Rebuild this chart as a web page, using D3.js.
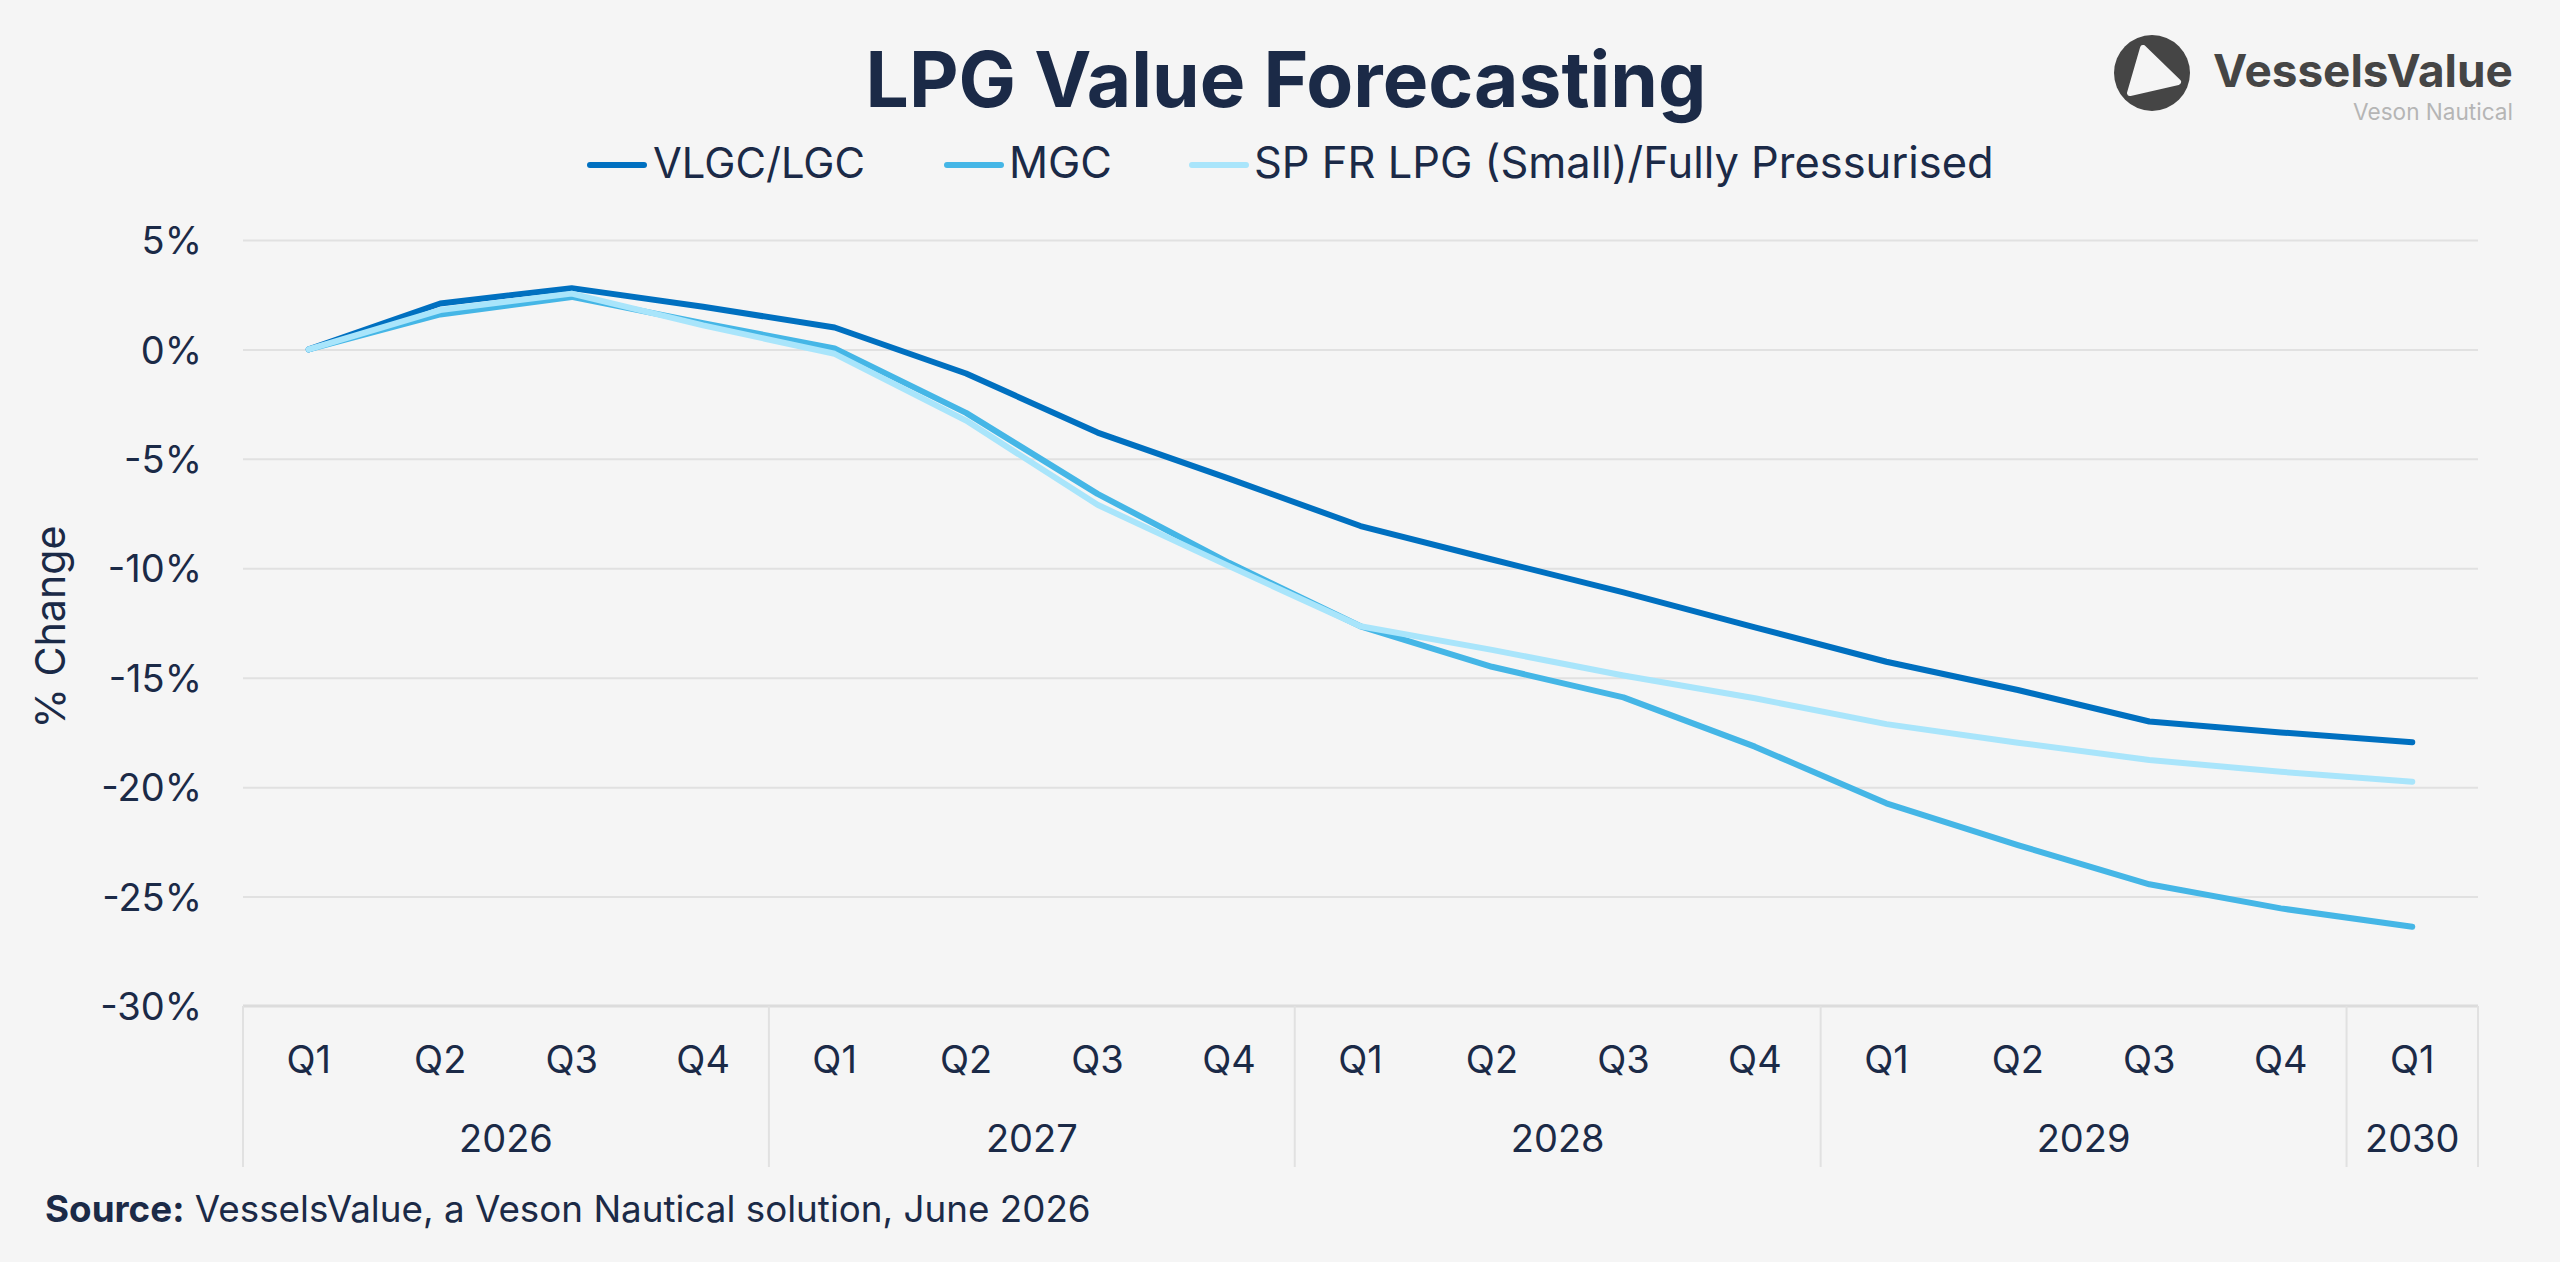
<!DOCTYPE html>
<html>
<head>
<meta charset="utf-8">
<script src="https://cdn.jsdelivr.net/npm/d3@7"></script>
<style>
  html, body { margin: 0; padding: 0; background: #f5f5f5; }
  svg { display: block; }
  text { font-family: Inter, "Open Sans", sans-serif; fill: #1b2a47; }
</style>
</head>
<body>
<svg id="chart" width="2560" height="1262"></svg>
<script>
// ---------- data ----------
const quarters = ["Q1","Q2","Q3","Q4","Q1","Q2","Q3","Q4","Q1","Q2","Q3","Q4","Q1","Q2","Q3","Q4","Q1"];
const yearLabels = ["2026","2027","2028","2029","2030"];
const yearSpans = [4, 4, 4, 4, 1];
const seriesNames = ["VLGC/LGC", "MGC", "SP FR LPG (Small)/Fully Pressurised"];
const vlgc = [0, 2.1, 2.8, 1.95, 1.0, -1.1, -3.8, -5.9, -8.07, -9.6, -11.1, -12.7, -14.27, -15.56, -17.0, -17.5, -17.95];
const mgc  = [0, 1.6, 2.4, 1.2, 0.05, -2.9, -6.6, -9.75, -12.65, -14.5, -15.9, -18.15, -20.74, -22.65, -24.44, -25.54, -26.38];
const sp   = [0, 1.8, 2.55, 1.1, -0.2, -3.25, -7.1, -9.9, -12.65, -13.73, -14.9, -15.94, -17.12, -17.97, -18.76, -19.3, -19.75];
const yTicks = [5, 0, -5, -10, -15, -20, -25, -30];
const titleText = "LPG Value Forecasting";
const yAxisTitle = "% Change";
const sourceBold = "Source:";
const sourceText = " VesselsValue, a Veson Nautical solution, June 2026";

// ---------- styles ----------
const colors = ["#0070c0", "#45b6e6", "#a9e5fb"];
const navy = "#1b2a47";

const svg = d3.select("#chart");
const W = 2560, H = 1262;
svg.append("rect").attr("width", W).attr("height", H).attr("fill", "#f5f5f5");

const pL = 243, pR = 2478, pT = 240, pB = 1006;

const x = d3.scaleBand().domain(d3.range(quarters.length)).range([pL, pR]).padding(0);
const y = d3.scaleLinear().domain([-30, 5]).range([pB, pT]);

// fit text width helper
function fit(sel, target) {
  const w = sel.node().getComputedTextLength();
  const fs = parseFloat(sel.attr("font-size"));
  if (w > 0) sel.attr("font-size", fs * target / w);
}

// ---------- gridlines ----------
const grid = svg.append("g").attr("transform", `translate(${pL},0)`)
  .call(d3.axisLeft(y).tickValues(yTicks.filter(d => d !== -30)).tickSize(-(pR - pL)).tickFormat(""));
grid.select(".domain").remove();
grid.selectAll("line").attr("stroke", "#e1e1e1").attr("stroke-width", 2);

// ---------- y axis labels ----------
const yAxis = svg.append("g").attr("transform", `translate(${pL},0)`)
  .call(d3.axisLeft(y).tickValues(yTicks).tickSize(0).tickPadding(41).tickFormat(d => d + "%"));
yAxis.select(".domain").remove();
yAxis.selectAll("text").attr("font-size", 38).attr("fill", navy).attr("font-family", "Inter, sans-serif")
  .attr("dy", "0.36em");

const yt = svg.append("text")
  .attr("transform", `translate(50,${(pT + pB) / 2 + 4}) rotate(-90)`)
  .attr("text-anchor", "middle").attr("dominant-baseline", "central")
  .attr("font-size", 38).attr("fill", navy).text(yAxisTitle);
fit(yt, 203);

// ---------- x axis ----------
const xAxisY = pB;
svg.append("line").attr("x1", pL).attr("x2", pR).attr("y1", xAxisY).attr("y2", xAxisY)
  .attr("stroke", "#dcdcdc").attr("stroke-width", 3);

const xAxis = svg.append("g").attr("transform", `translate(0,${xAxisY})`)
  .call(d3.axisBottom(x).tickSize(0).tickPadding(40).tickFormat(i => quarters[i]));
xAxis.select(".domain").remove();
xAxis.selectAll("text").attr("font-size", 38).attr("fill", navy).attr("font-family", "Inter, sans-serif")
  .attr("dy", "0.35em").attr("y", 54);

// year groups
let idx = 0;
const sepBottom = 1167;
const boundaries = [0];
yearSpans.forEach(s => { idx += s; boundaries.push(idx); });
boundaries.forEach(b => {
  const bx = b < quarters.length ? x(b) : pR;
  svg.append("line").attr("x1", bx).attr("x2", bx).attr("y1", xAxisY).attr("y2", sepBottom)
    .attr("stroke", "#e1e1e1").attr("stroke-width", 2);
});
yearLabels.forEach((yl, i) => {
  const x0 = x(boundaries[i]);
  const x1 = boundaries[i + 1] < quarters.length ? x(boundaries[i + 1]) : pR;
  svg.append("text").attr("x", (x0 + x1) / 2).attr("y", 1138)
    .attr("text-anchor", "middle").attr("dominant-baseline", "central")
    .attr("font-size", 38).attr("fill", navy).text(yl);
});

// ---------- lines ----------
const allSeries = [vlgc, mgc, sp];
const line = d3.line().x((d, i) => x(i) + x.bandwidth() / 2).y(d => y(d));
allSeries.forEach((s, k) => {
  svg.append("path").datum(s).attr("d", line)
    .attr("fill", "none").attr("stroke", colors[k]).attr("stroke-width", 6)
    .attr("stroke-linejoin", "round").attr("stroke-linecap", "round");
});

// ---------- title ----------
const title = svg.append("text").attr("x", 1286).attr("y", 107).attr("text-anchor", "middle")
  .attr("font-size", 68).attr("font-weight", 700).attr("fill", navy).text(titleText);
fit(title, 841);

// ---------- legend ----------
const legendItems = [
  { lx: 587, tx: 653, tw: 212 },
  { lx: 944, tx: 1009, tw: 103 },
  { lx: 1189, tx: 1254, tw: 740 }
];
seriesNames.forEach((n, k) => {
  const it = legendItems[k];
  svg.append("line").attr("x1", it.lx + 3).attr("x2", it.lx + 57).attr("y1", 165).attr("y2", 165)
    .attr("stroke", colors[k]).attr("stroke-width", 6).attr("stroke-linecap", "round");
  const t = svg.append("text").attr("x", it.tx).attr("y", 178).attr("font-size", 38)
    .attr("fill", navy).text(n);
  fit(t, it.tw);
});

// ---------- source ----------
const src = svg.append("text").attr("x", 45).attr("y", 1222).attr("font-size", 32).attr("fill", navy);
src.append("tspan").attr("font-weight", 700).text(sourceBold);
src.append("tspan").text(sourceText);
fit(src, 1046);

// ---------- logo ----------
const logo = svg.append("g");
logo.append("circle").attr("cx", 2152).attr("cy", 73).attr("r", 38).attr("fill", "#454545");
logo.append("path").attr("d", "M2143,48 L2178,82 L2130,93 Z")
  .attr("fill", "#f5f5f5").attr("stroke", "#f5f5f5").attr("stroke-width", 6).attr("stroke-linejoin", "round");
const lt = logo.append("text").attr("x", 2213).attr("y", 87).attr("font-size", 46)
  .attr("font-weight", 700).style("fill", "#454545").text("VesselsValue");
fit(lt, 300);
const lt2 = logo.append("text").attr("x", 2513).attr("y", 120).attr("text-anchor", "end")
  .attr("font-size", 24).style("fill", "#b5b5b5").text("Veson Nautical");
fit(lt2, 160);
</script>
</body>
</html>
